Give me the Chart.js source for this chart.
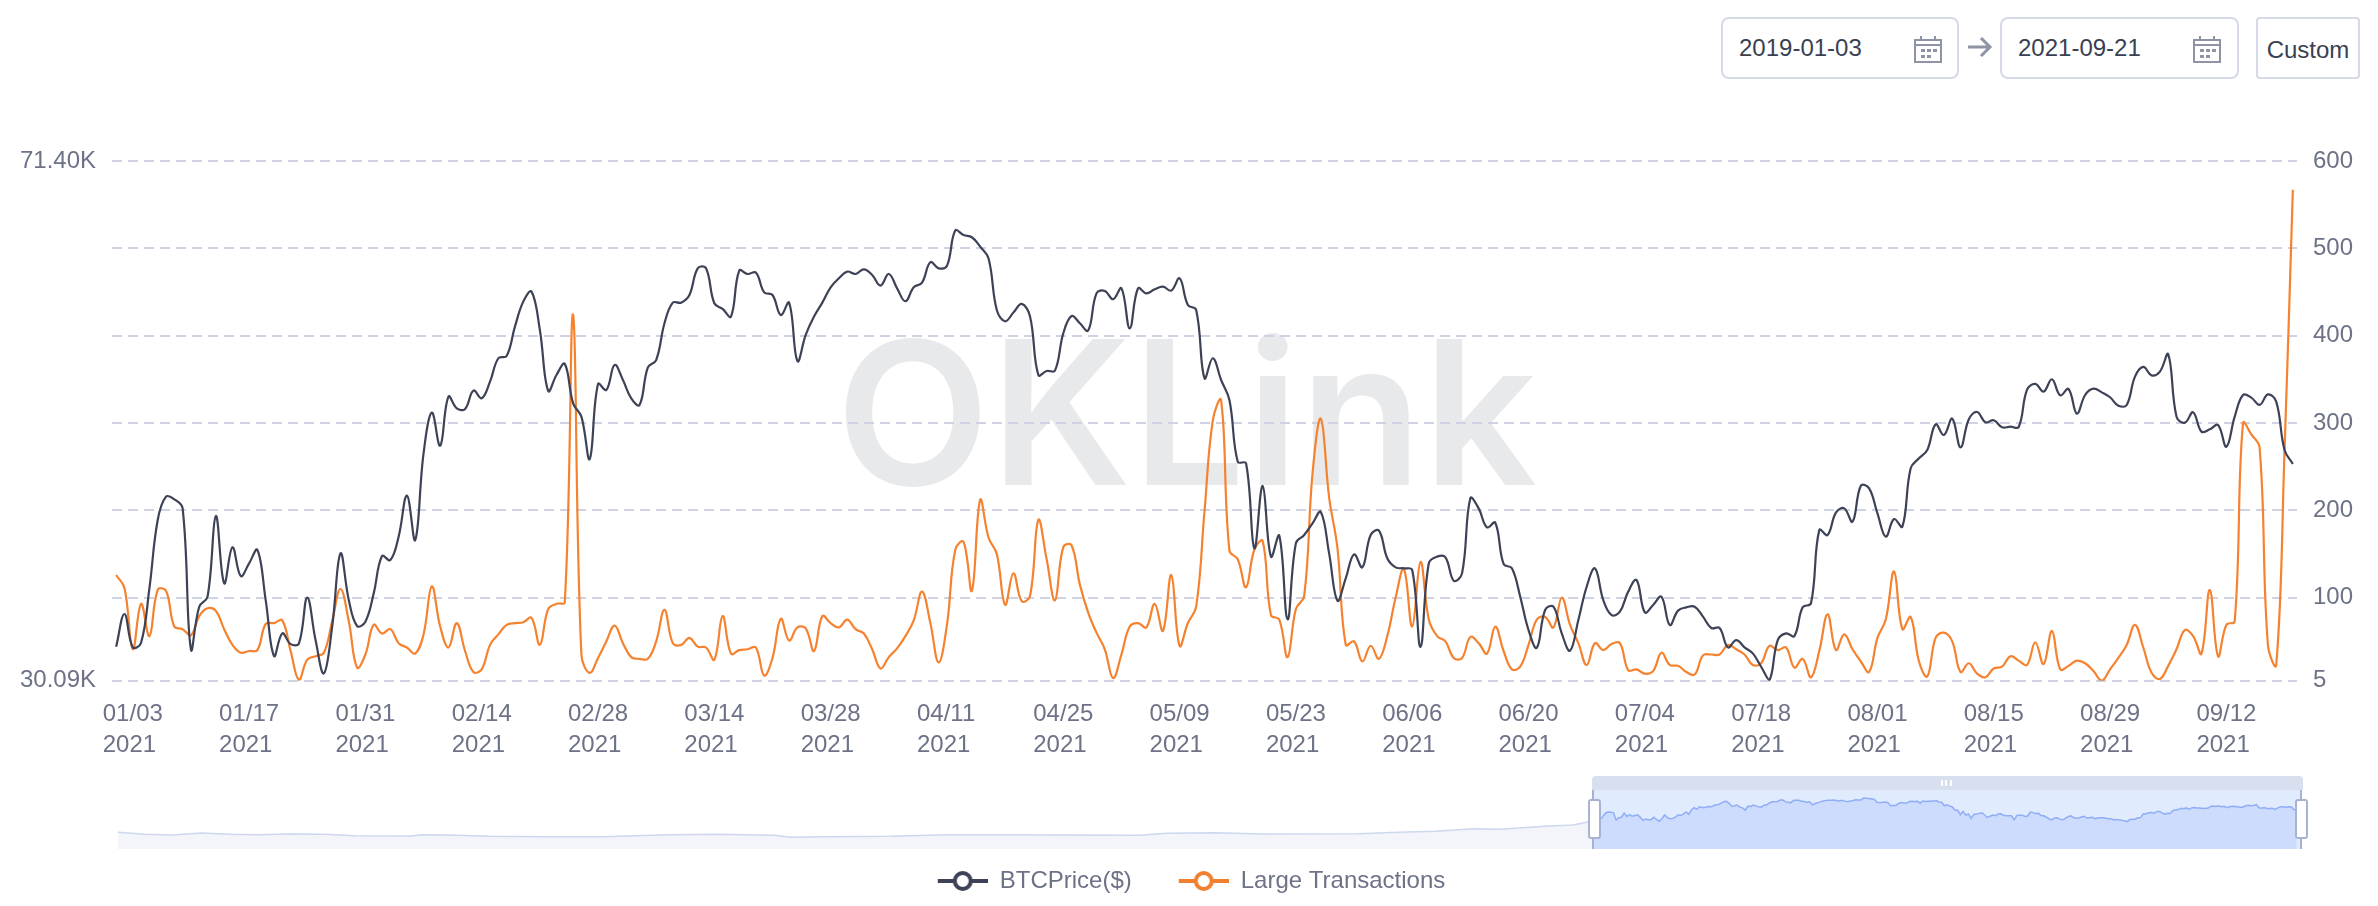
<!DOCTYPE html>
<html>
<head>
<meta charset="utf-8">
<title>BTCPrice vs Large Transactions</title>
<script src="https://cdn.jsdelivr.net/npm/chart.js@4"></script>
<style>
body{margin:0;background:#fff;width:2378px;height:906px;overflow:hidden;position:relative;font-family:"Liberation Sans",Arial,sans-serif;}
canvas{position:absolute;display:block;}
#mainChart{left:0;top:0;z-index:3;}
#overview{left:118px;top:790px;z-index:2;}
.watermark{position:absolute;left:836px;top:292px;font:600 200px/240px Inter,"Liberation Sans",sans-serif;letter-spacing:1px;color:#e8e9eb;z-index:1;white-space:nowrap;}
.box{position:absolute;box-sizing:border-box;top:17px;height:62px;border:2px solid #d5d9e8;border-radius:8px;font-size:24px;color:#3a3f52;line-height:58px;}
.box span{position:absolute;left:16px;}
.box svg{position:absolute;left:190px;top:16px;}
.arrow{position:absolute;left:1967px;top:36px;}
.custom{left:2256px;width:104px;border-radius:4px;text-align:center;line-height:62px;}
.win{position:absolute;left:1592px;top:790px;width:709px;height:59px;background:#e1ebfe;z-index:1;}
.bar{position:absolute;left:1592px;top:776px;width:711px;height:14px;background:#d8dfee;border-radius:4px 4px 0 0;z-index:2;}
.grip{position:absolute;left:1941px;top:780px;width:11px;height:6px;background:repeating-linear-gradient(90deg,#fff 0 2px,transparent 2px 4.5px);z-index:3;}
.edge{position:absolute;top:790px;width:2px;height:59px;background:#a5b2d3;z-index:3;}
.handle{position:absolute;box-sizing:border-box;top:799px;width:13px;height:40px;background:#fff;border:2px solid #a6b3d1;border-radius:3px;z-index:4;}
</style>
</head>
<body>

<div class="watermark">OKLink</div>

<div class="box" style="left:1721px;width:238px"><span>2019-01-03</span>
<svg width="30" height="28" viewBox="0 0 30 28" fill="#8e93a6"><path d="M1 4h28v24H1zM3 11v15h24V11zM3 6v3h24V6z" fill-rule="evenodd"/><rect x="7" y="1" width="2" height="5"/><rect x="21" y="1" width="2" height="5"/><rect x="8" y="14" width="4" height="3"/><rect x="14" y="14" width="4" height="3"/><rect x="20" y="14" width="4" height="3"/><rect x="8" y="20" width="4" height="3"/><rect x="14" y="20" width="4" height="3"/></svg></div>
<svg class="arrow" width="26" height="22" viewBox="0 0 26 22" fill="none" stroke="#8e93a6" stroke-width="3"><path d="M1 11h22M14 2l9 9-9 9"/></svg>
<div class="box" style="left:2000px;width:239px"><span>2021-09-21</span>
<svg width="30" height="28" viewBox="0 0 30 28" fill="#8e93a6"><path d="M1 4h28v24H1zM3 11v15h24V11zM3 6v3h24V6z" fill-rule="evenodd"/><rect x="7" y="1" width="2" height="5"/><rect x="21" y="1" width="2" height="5"/><rect x="8" y="14" width="4" height="3"/><rect x="14" y="14" width="4" height="3"/><rect x="20" y="14" width="4" height="3"/><rect x="8" y="20" width="4" height="3"/><rect x="14" y="20" width="4" height="3"/></svg></div>
<div class="box custom">Custom</div>

<div class="win"></div>
<div class="bar"></div>
<div class="grip"></div>
<div class="edge" style="left:1592px"></div>
<div class="edge" style="left:2300px"></div>
<div class="handle" style="left:1588px"></div>
<div class="handle" style="left:2295px"></div>

<canvas id="overview" width="2184" height="59"></canvas>
<canvas id="mainChart" width="2378" height="906"></canvas>

<script>
// daily values, 2021 only
const btcPrice = [
32790,35390,32740,33110,37430,42860,44720,44510,43790,32580,35970,36770,43180,37830,40690,38410,39420,40480,36500,32050,
33850,33000,33060,36690,33320,30670,34380,40210,36500,34440,34780,37030,40000,39680,41540,44800,41270,48160,51400,48770,
52670,51740,51690,53150,52540,53860,55720,55900,58230,60220,61020,57970,53120,54390,55270,52140,51080,47710,53680,53200,
55190,53990,52540,52010,55000,55580,58500,60140,60140,60750,62870,62870,60090,59640,59030,62690,62420,62530,60960,60750,
59160,60140,55500,57570,59030,60140,61360,62080,62610,62420,62790,62340,61490,62420,61280,60250,61360,61730,63350,62870,
63060,65870,65520,65340,64590,63670,59560,58660,59350,60040,59030,54390,54710,54740,57700,59080,58500,57920,60880,61070,
60410,61280,58100,61280,60880,61200,61410,61100,62080,59960,59560,54130,55720,53990,52400,47500,47370,40610,45570,39950,
41620,34970,41010,41670,42600,43500,40210,36450,38230,40130,39100,41670,42020,39820,39100,39020,38890,32790,39420,39950,
39900,38040,38620,44590,43790,42280,42650,39370,39020,36770,34120,32710,35710,35970,33850,32480,34910,37560,39020,36500,
35310,35580,37170,38090,35520,36110,36770,34520,35660,35920,35970,35180,34280,34280,32740,33320,32740,32260,31200,30140,
33320,33850,33640,35920,36240,42070,41670,43450,43790,42730,45590,45380,43390,41540,42940,42330,46970,47770,48430,50470,
49620,50920,48640,50870,51450,50630,50790,50230,50280,50260,53200,53680,53070,54050,52770,53280,51320,52800,53300,53010,
52620,51950,52010,54260,55030,54360,54660,56030,51080,50600,51420,49890,50070,50420,48690,51080,52800,52590,52010,52850,
52270,48430,47320];

const largeTx = [
126,111,41,93,56,109,108,67,64,57,79,88,85,64,46,37,39,40,70,71,
74,39,6,29,33,37,73,110,73,20,35,69,59,64,48,43,36,58,113,67,
43,71,39,15,18,46,58,69,71,72,77,46,87,93,95,424,35,14,31,50,
68,48,32,30,30,50,86,48,46,54,44,43,29,79,36,40,41,43,11,31,
76,51,66,65,39,79,71,66,75,64,59,41,19,32,42,56,74,107,71,26,
69,155,164,108,212,169,150,92,128,96,102,189,144,97,158,160,115,83,60,41,
8,35,67,71,66,93,62,126,45,71,90,199,303,326,154,144,112,155,165,80,
75,32,87,102,242,305,215,157,46,50,27,45,30,56,100,133,67,141,75,56,
50,31,31,55,48,36,67,39,18,21,46,75,78,66,100,69,48,23,48,40,
47,48,17,18,13,16,37,23,22,15,12,34,35,35,46,41,35,23,25,45,
40,43,20,30,9,39,81,40,58,41,27,15,54,75,130,64,78,27,10,54,
60,50,15,25,13,9,19,21,33,28,23,49,24,62,18,22,28,25,16,5,
18,31,46,69,43,14,7,22,41,63,56,36,109,33,69,73,300,287,272,46,
23,268,567];

const tickDates = ["01/03","01/17","01/31","02/14","02/28","03/14","03/28","04/11","04/25","05/09","05/23","06/06","06/20","07/04","07/18","08/01","08/15","08/29","09/12"];
const tickYear = "2021";
const priceTicks = [30090,71400];
const priceTickLabels = ["30.09K","71.40K"];
const txTicks = [5,100,200,300,400,500,600];

// slider overview before the selected window (days before the window, price in K)
const overviewDays = [-548,-538,-528,-517,-506,-496,-485,-471,-460,-439,-435,-425,-410,-389,-368,-343,-325,-304,-298,-286,-261,-240,-218,-200,-168,-158,-140,-122,-87,-72,-58,-44,-34,-16,-7,-2,0];
const overviewPrice = [13.8,10.8,9.7,12.8,10.8,10.2,11.3,10.8,8.7,8.2,10.2,9.7,7.7,7.2,7.2,10.2,10.8,9.2,6.2,7.2,7.7,10.2,10.2,9.7,9.2,12.2,13.2,11.3,11.7,13.8,15.3,19.4,18.4,23.4,24.9,29,32.8];

// category labels, one per day from Jan 1
const dates = [];
for(let i = 0; i < btcPrice.length; i++){
  let d = new Date(Date.UTC(2021,0,1+i));
  dates.push(String(d.getUTCMonth()+1).padStart(2,"0") + "/" + String(d.getUTCDate()).padStart(2,"0"));
}

const textColor = "#6d7287";
const font = {family:"'Liberation Sans',Arial,sans-serif",size:24,lineHeight:1.3};

// legend marker: short line with a ring on it, left part empty to space the items
function legendMarker(color){
  let c = document.createElement("canvas");
  c.width = 87;
  c.height = 30;
  let g = c.getContext("2d");
  g.strokeStyle = color;
  g.lineWidth = 4;
  g.beginPath();
  g.moveTo(37,15);
  g.lineTo(87,15);
  g.stroke();
  g.fillStyle = "#fff";
  g.beginPath();
  g.arc(62,15,8,0,Math.PI*2);
  g.fill();
  g.stroke();
  return c;
}

// the empty part of the marker pushes the legend right, pull it back
const legendShift = {
  id:"legendShift",
  afterLayout:function(chart){
    chart.legend.left -= 16;
    chart.legend.right -= 16;
  }
};

new Chart(document.getElementById("mainChart"),{
  type:"line",
  plugins:[legendShift],
  data:{
    labels:dates,
    datasets:[
      {label:"BTCPrice($)",data:btcPrice,yAxisID:"yPrice",borderColor:"#3d4257",backgroundColor:"#3d4257",borderWidth:2.2,tension:0.4,pointRadius:0,pointStyle:legendMarker("#3d4257")},
      {label:"Large Transactions",data:largeTx,yAxisID:"yTx",borderColor:"#f5822f",backgroundColor:"#f5822f",borderWidth:2.2,tension:0.4,pointRadius:0,pointStyle:legendMarker("#f08030")}
    ]
  },
  options:{
    responsive:false,
    animation:false,
    devicePixelRatio:1,
    layout:{padding:{top:161,bottom:3}},
    plugins:{
      tooltip:{enabled:false},
      legend:{
        position:"bottom",
        labels:{usePointStyle:true,pointStyleWidth:87,boxHeight:24,padding:10,color:textColor,font:font}
      }
    },
    scales:{
      x:{
        offset:true,
        grid:{display:false,drawTicks:false},
        border:{display:false},
        afterFit:function(s){ s.height = 178.3; },
        afterBuildTicks:function(s){
          s.ticks = s.ticks.filter(function(t){ return tickDates.includes(dates[t.value]); });
        },
        ticks:{
          autoSkip:false,
          maxRotation:0,
          align:"start",      // date and year share a left edge
          labelOffset:-30,
          padding:18,
          color:textColor,
          font:font,
          callback:function(v){ return [dates[v],tickYear]; }
        }
      },
      yPrice:{
        position:"left",
        min:30090,
        max:71400,
        grid:{display:false,drawTicks:false},
        border:{display:false},
        afterFit:function(s){ s.width = 112; },
        afterBuildTicks:function(s){ s.ticks = priceTicks.map(function(v){ return {value:v}; }); },
        ticks:{
          padding:16,
          color:textColor,
          font:font,
          callback:function(v){ return priceTickLabels[priceTicks.indexOf(v)]; }
        }
      },
      yTx:{
        position:"right",
        min:5,
        max:600,
        grid:{color:"#cfd2e2",lineWidth:2,drawTicks:false},
        border:{display:false,dash:[10,6]},
        afterFit:function(s){ s.width = 81; },
        afterBuildTicks:function(s){ s.ticks = txTicks.map(function(v){ return {value:v}; }); },
        ticks:{padding:16,color:textColor,font:font}
      }
    }
  }
});

// slider overview, the selected part repeats the price series
new Chart(document.getElementById("overview"),{
  type:"line",
  data:{
    datasets:[
      {data:overviewDays.map(function(d,i){ return {x:d,y:overviewPrice[i]}; }),borderColor:"#cdd8ee",borderWidth:1.5,backgroundColor:"#f3f5fb",fill:"start",pointRadius:0,tension:0},
      {data:btcPrice.map(function(p,i){ return {x:i,y:p/1000}; }),borderColor:"#90aef5",borderWidth:1.5,backgroundColor:"#cddbfd",fill:"start",pointRadius:0,tension:0}
    ]
  },
  options:{
    responsive:false,
    animation:false,
    devicePixelRatio:1,
    plugins:{legend:{display:false},tooltip:{enabled:false}},
    scales:{
      x:{type:"linear",display:false,min:-548,max:264},
      y:{display:false,min:-11.6,max:78.2}
    }
  }
});
</script>
</body>
</html>
